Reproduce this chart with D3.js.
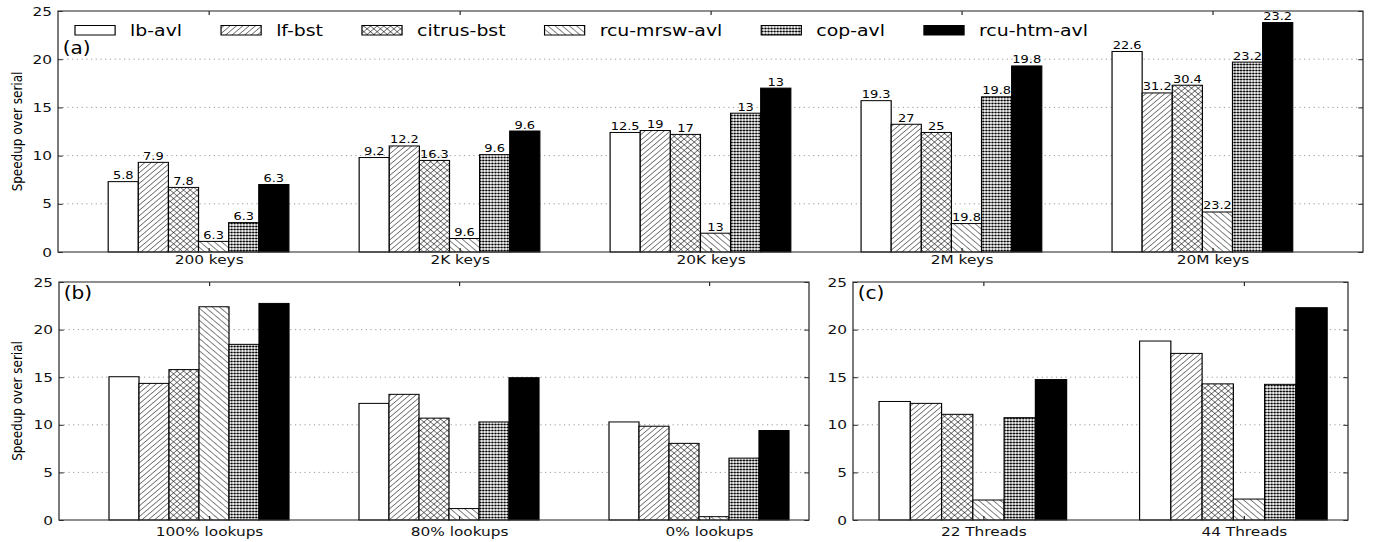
<!DOCTYPE html>
<html>
<head>
<meta charset="utf-8">
<script src="https://cdn.jsdelivr.net/npm/d3@7"></script>
<style>
  body { margin: 0; background: #fff; }
  svg { display: block; font-family: "DejaVu Sans", sans-serif; }
</style>
</head>
<body>
<svg id="chart"></svg>
<script>
// series and categories
const series = ['lb-avl', 'lf-bst', 'citrus-bst', 'rcu-mrsw-avl', 'cop-avl', 'rcu-htm-avl']

const keyCats = ['200 keys', '2K keys', '20K keys', '2M keys', '20M keys']
// one row per category, one value per series
const keySpeedup = [
  [7.3, 9.3, 6.7, 1.1, 3.05, 7.0],
  [9.8, 11.0, 9.5, 1.4, 10.1, 12.55],
  [12.4, 12.6, 12.2, 1.95, 14.4, 17.0],
  [15.7, 13.25, 12.4, 2.95, 16.1, 19.3],
  [20.8, 16.5, 17.3, 4.15, 19.7, 23.8]
]
const keyLabels = [
  ['5.8', '7.9', '7.8', '6.3', '6.3', '6.3'],
  ['9.2', '12.2', '16.3', '9.6', '9.6', '9.6'],
  ['12.5', '19', '17', '13', '13', '13'],
  ['19.3', '27', '25', '19.8', '19.8', '19.8'],
  ['22.6', '31.2', '30.4', '23.2', '23.2', '23.2']
]

const mixCats = ['100% lookups', '80% lookups', '0% lookups']
const mixSpeedup = [
  [15.05, 14.35, 15.8, 22.4, 18.45, 22.75],
  [12.25, 13.2, 10.7, 1.2, 10.3, 14.95],
  [10.3, 9.85, 8.05, 0.35, 6.5, 9.4]
]

const threadCats = ['22 Threads', '44 Threads']
const threadSpeedup = [
  [12.45, 12.25, 11.1, 2.1, 10.75, 14.75],
  [18.8, 17.5, 14.3, 2.2, 14.25, 22.3]
]

const yTicks = [0, 5, 10, 15, 20, 25]

// the original figure is stretched sideways, so draw narrow and stretch the svg
const SX = 1.18
const W = 1374 / SX, H = 542

let svg = d3.select('#chart')
  .attr('width', 1374).attr('height', H)
  .attr('viewBox', `0 0 ${W} ${H}`)
  .attr('preserveAspectRatio', 'none')

let defs = svg.append('defs')

let hatch = (id, angle, gap) => {
  let p = defs.append('pattern').attr('id', id)
    .attr('patternUnits', 'userSpaceOnUse')
    .attr('width', gap).attr('height', gap)
    .attr('patternTransform', `rotate(${angle})`)
  p.append('rect').attr('width', gap).attr('height', gap).attr('fill', '#fff')
  p.append('line').attr('x1', 0).attr('y1', 0).attr('x2', 0).attr('y2', gap)
    .attr('stroke', '#000').attr('stroke-width', 0.9)
}
hatch('fwd', 45, 3.8)
hatch('back', -45, 4.3)

let cross = defs.append('pattern').attr('id', 'cross')
  .attr('patternUnits', 'userSpaceOnUse').attr('width', 4).attr('height', 4)
  .attr('patternTransform', 'rotate(45)')
cross.append('rect').attr('width', 4).attr('height', 4).attr('fill', '#fff')
cross.append('line').attr('x1', 0).attr('y1', 0).attr('x2', 0).attr('y2', 4).attr('stroke', '#000').attr('stroke-width', 0.9)
cross.append('line').attr('x1', 0).attr('y1', 0).attr('x2', 4).attr('y2', 0).attr('stroke', '#000').attr('stroke-width', 0.9)

let dots = defs.append('pattern').attr('id', 'dots')
  .attr('patternUnits', 'userSpaceOnUse').attr('width', 2.6).attr('height', 3)
dots.append('rect').attr('width', 2.6).attr('height', 3).attr('fill', '#fff')
dots.append('circle').attr('cx', 1.3).attr('cy', 1.5).attr('r', 1.1).attr('fill', '#000')

const fills = ['#fff', 'url(#fwd)', 'url(#cross)', 'url(#back)', 'url(#dots)', '#000']

let drawPanel = (p) => {
  let g = svg.append('g')
  let x = d3.scaleLinear().domain(p.domain).range([p.x0 / SX, p.x1 / SX])
  let y = d3.scaleLinear().domain([0, 25]).range([p.y1, p.y0])

  // dotted grid
  g.append('g').selectAll('line')
    .data([5, 10, 15, 20])
    .join('line')
    .attr('x1', x.range()[0]).attr('x2', x.range()[1])
    .attr('y1', (v) => y(v)).attr('y2', (v) => y(v))
    .attr('stroke', '#8a8a8a').attr('stroke-width', 0.8)
    .attr('stroke-dasharray', '1,3')

  let bw = x(0.12) - x(0)
  let bars = []
  p.values.forEach((row, i) => {
    row.forEach((v, k) => {
      bars.push({ i: i, k: k, v: v, label: p.labels ? p.labels[i][k] : null })
    })
  })

  g.append('g').selectAll('rect')
    .data(bars)
    .join('rect')
    .attr('x', (d) => x(d.i - 0.4 + d.k * 0.12))
    .attr('y', (d) => y(d.v))
    .attr('width', bw)
    .attr('height', (d) => y(0) - y(d.v))
    .attr('fill', (d) => fills[d.k])
    .attr('stroke', '#000').attr('stroke-width', 1)

  if (p.labels) {
    g.append('g').selectAll('text')
      .data(bars)
      .join('text')
      .attr('x', (d) => x(d.i - 0.4 + d.k * 0.12) + bw / 2)
      .attr('y', (d) => y(d.v) - 2.5)
      .attr('text-anchor', 'middle')
      .attr('font-size', 11)
      .text((d) => d.label)
  }

  let cats = d3.range(p.cats.length)

  let left = g.append('g').attr('transform', `translate(${x.range()[0]},0)`)
    .call(d3.axisLeft(y).tickValues(yTicks).tickSizeInner(-4).tickSizeOuter(0).tickPadding(5))
  let right = g.append('g').attr('transform', `translate(${x.range()[1]},0)`)
    .call(d3.axisRight(y).tickValues(yTicks).tickSizeInner(-4).tickSizeOuter(0).tickFormat(''))
  let top = g.append('g').attr('transform', `translate(0,${p.y0})`)
    .call(d3.axisTop(x).tickValues(cats).tickSizeInner(-4).tickSizeOuter(0).tickFormat(''))
  let bottom = g.append('g').attr('transform', `translate(0,${p.y1})`)
    .call(d3.axisBottom(x).tickValues(cats).tickSizeInner(-4).tickSizeOuter(0)
      .tickPadding(p.pad).tickFormat((i) => p.cats[i]))

  ;[left, right, top, bottom].forEach((a) => {
    a.select('.domain').remove()
    a.attr('font-family', null).attr('font-size', 13)
    a.selectAll('line').attr('stroke', '#222')
    a.selectAll('text').attr('fill', '#111')
  })

  g.append('rect')
    .attr('x', x.range()[0]).attr('y', p.y0)
    .attr('width', x.range()[1] - x.range()[0]).attr('height', p.y1 - p.y0)
    .attr('fill', 'none').attr('stroke', '#333').attr('stroke-width', 1.1)

  g.append('text')
    .attr('x', x.range()[0] + 4).attr('y', p.tagY)
    .attr('font-size', 17)
    .text(p.tag)

  if (p.yLabel) {
    g.append('text')
      .attr('transform', `translate(${17 / SX},${(p.y0 + p.y1) / 2}) rotate(-90)`)
      .attr('text-anchor', 'middle')
      .attr('dominant-baseline', 'central')
      .attr('font-size', 12)
      .text(p.yLabel)
  }
}

drawPanel({ x0: 58, x1: 1363, y0: 11, y1: 252, domain: [-0.6, 4.6], cats: keyCats,
  values: keySpeedup, labels: keyLabels, tag: '(a)', tagY: 54, pad: 3,
  yLabel: 'Speedup over serial' })
drawPanel({ x0: 59, x1: 809, y0: 282, y1: 520, domain: [-0.6, 2.4], cats: mixCats,
  values: mixSpeedup, tag: '(b)', tagY: 299, pad: 6.5,
  yLabel: 'Speedup over serial' })
drawPanel({ x0: 853, x1: 1348, y0: 282, y1: 520, domain: [-0.5, 1.4], cats: threadCats,
  values: threadSpeedup, tag: '(c)', tagY: 299, pad: 6.5 })

// legend across the top of panel (a)
let legend = svg.append('g').attr('font-size', 16)
let lx = 75 / SX
series.forEach((name, k) => {
  legend.append('rect')
    .attr('x', lx).attr('y', 25.5)
    .attr('width', 34).attr('height', 9.5)
    .attr('fill', fills[k]).attr('stroke', '#000').attr('stroke-width', 1)
  let t = legend.append('text')
    .attr('x', lx + 34 + 12.7).attr('y', 36.5)
    .text(name)
  lx += 34 + 12.7 + t.node().getComputedTextLength() + 33
})
</script>
</body>
</html>
